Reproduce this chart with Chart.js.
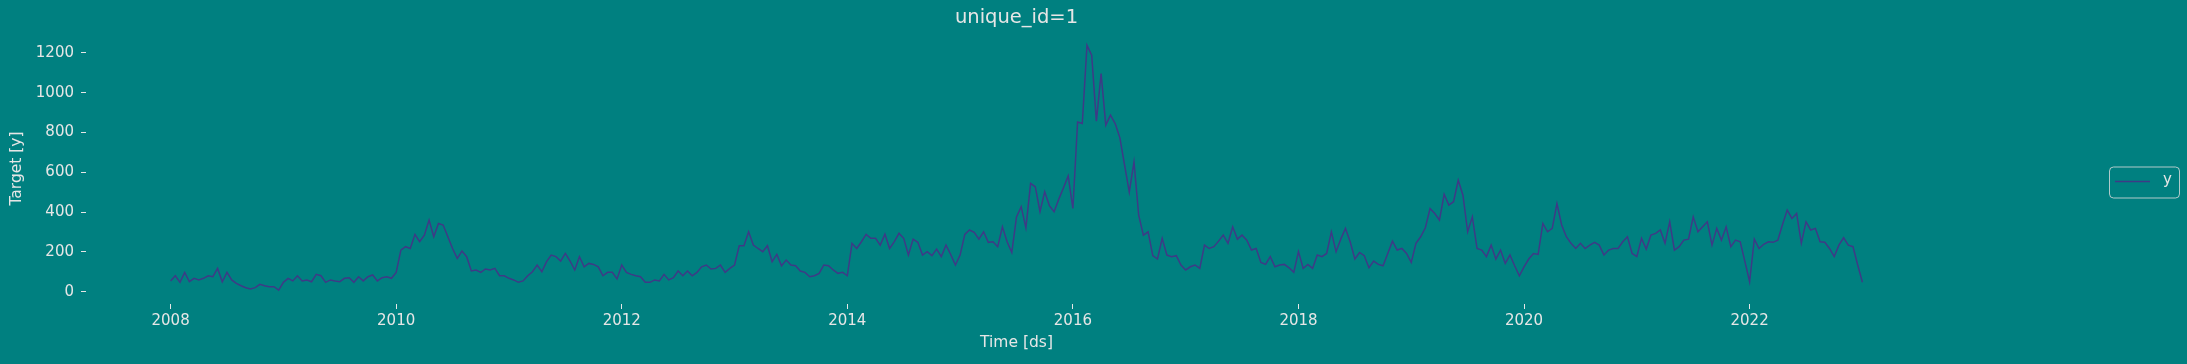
<!DOCTYPE html>
<html>
<head>
<meta charset="utf-8">
<script src="https://cdn.jsdelivr.net/npm/chart.js@4.4.1/dist/chart.umd.min.js"></script>
<style>
  html, body { margin: 0; padding: 0; background: #008080; }
</style>
</head>
<body>
<canvas id="chart" width="2187" height="364"></canvas>
<script>
const chartTitle = "unique_id=1";
const seriesName = "y";
const startYear = 2008;
const pointsPerYear = 24; // half-month readings
const xTicks = [2008, 2010, 2012, 2014, 2016, 2018, 2020, 2022];
const yTicks = [0, 200, 400, 600, 800, 1000, 1200];

// values, 2008.0 -> 2023.0
const values = [
  54, 80, 47, 97, 50, 67, 59, 67, 80, 75, 117, 50, 97, 59, 42, 30, 20, 13, 20, 37, 30, 25, 25, 8,
  47, 67, 54, 80, 54, 59, 50, 87, 80, 47, 59, 54, 50, 67, 70, 47, 75,
  54, 75, 84, 54, 70, 75, 67, 97,
  209, 226, 217, 288, 251, 284, 360, 276, 343, 335, 276, 217, 167, 204, 176, 104, 109, 97, 114, 109, 117, 80, 80, 67,
  59, 47, 54, 80, 100, 134, 100, 151, 184,
  176, 154, 192, 154, 109, 176, 125, 142, 137, 125, 80, 97, 97, 64,
  134, 97, 87, 80, 75, 47, 47, 59, 54, 87, 59, 70, 104, 80, 104, 80, 97, 125, 134, 114, 117, 134, 97, 117,
  134, 231,
  231, 301, 234, 217, 201, 231, 151, 187, 130, 159, 134, 130, 104, 97, 75, 80, 92, 134, 130, 109, 92, 97, 80,
  243, 217, 251, 288, 268, 268, 234, 289, 217, 251, 293, 268, 184, 264, 248, 184, 201, 181,
  214, 176, 234, 187, 134,
  184, 288, 310, 298, 264, 301, 248, 251, 226, 326, 251, 197, 376, 427, 321, 544, 527, 402, 502, 432, 402, 465, 522, 582,
  418, 853, 845, 1238, 1188, 857, 1096, 837, 887, 845, 773, 636,
  500, 652, 385, 284, 301, 181, 164, 268, 184, 176, 181, 134,
  109, 125, 134, 117, 234, 217, 226, 254, 284, 243, 326, 264, 284, 259, 209, 217, 147, 137, 176, 125, 134, 137, 120, 97,
  201, 117, 137, 117, 184,
  176, 192, 301, 201, 264, 318, 251, 164, 197, 181, 120, 154, 137, 130, 192, 254, 209, 217, 192,
  147, 243, 276, 321, 418, 393, 360, 489, 435, 452, 560, 485, 301, 376, 217, 209, 176, 234, 164, 209, 142, 184,
  130, 80,
  125, 164, 192, 187, 343, 301, 318, 443, 335, 276, 243, 217, 243, 217, 234, 248, 234, 184, 209, 217, 217, 251, 276, 192,
  176, 268, 214, 284, 293, 310, 243, 351, 209, 226, 259, 264, 376, 301, 326,
  351, 234, 318, 259, 326, 226, 259, 251, 151,
  50, 264, 217, 238, 251, 248, 259, 338, 410, 368, 393, 243, 351, 310, 318, 251, 248, 217, 176, 234, 271, 234, 226, 134,
  47
];

const ink = "#e6e6e6";
const lineColor = "#3e3a86";
const bg = "#008080";
const fontFamily = "'DejaVu Sans', sans-serif";

const points = values.map((v, i) => ({ x: startYear + i / pointsPerYear, y: v }));

const background = {
  id: "background",
  beforeDraw(chart) {
    const ctx = chart.ctx;
    ctx.save();
    ctx.fillStyle = bg;
    ctx.fillRect(0, 0, chart.width, chart.height);
    ctx.restore();
  }
};

// matplotlib style framed legend, right side, centred vertically
const legendBox = {
  id: "legendBox",
  afterDraw(chart) {
    const ctx = chart.ctx;
    const ds = chart.data.datasets[0];
    const w = 70, h = 31;
    const x = chart.width - w - 8;
    const y = chart.height / 2 - h / 2;
    ctx.save();
    ctx.beginPath();
    ctx.roundRect(x + 0.5, y + 0.5, w, h, 4);
    ctx.fillStyle = "rgba(0,128,128,0.8)";
    ctx.fill();
    ctx.strokeStyle = "rgba(220,220,220,0.8)";
    ctx.lineWidth = 1;
    ctx.stroke();
    ctx.beginPath();
    ctx.moveTo(x + 6, y + 15);
    ctx.lineTo(x + 41, y + 15);
    ctx.strokeStyle = ds.borderColor;
    ctx.lineWidth = 1.5;
    ctx.stroke();
    ctx.fillStyle = ink;
    ctx.font = "15px " + fontFamily;
    ctx.textBaseline = "middle";
    ctx.fillText(ds.label, x + 54, y + 14);
    ctx.restore();
  }
};

new Chart(document.getElementById("chart"), {
  type: "line",
  data: {
    datasets: [{
      label: seriesName,
      data: points,
      borderColor: lineColor,
      borderWidth: 1.5,
      pointRadius: 0,
      tension: 0,
      fill: false
    }]
  },
  options: {
    responsive: false,
    animation: false,
    layout: { padding: { left: 0, right: 240, top: 0, bottom: 0 } },
    plugins: {
      legend: { display: false },
      tooltip: { enabled: false },
      title: {
        display: true,
        text: chartTitle,
        color: ink,
        fullSize: false,
        font: { family: fontFamily, size: 19.5, weight: "normal" },
        padding: { top: 6, bottom: 3.6 }
      }
    },
    scales: {
      x: {
        type: "linear",
        min: 2007.25,
        max: 2023.75,
        afterBuildTicks: scale => { scale.ticks = xTicks.map(v => ({ value: v })); },
        afterFit: scale => { scale.height = 60; },
        border: { display: false },
        grid: { drawOnChartArea: false, drawTicks: true, tickLength: 5, tickColor: ink, tickWidth: 1 },
        ticks: {
          color: ink,
          padding: 3,
          maxRotation: 0,
          font: { family: fontFamily, size: 15 },
          callback: v => String(v)
        },
        title: {
          display: true,
          text: "Time [ds]",
          color: ink,
          font: { family: fontFamily, size: 15.5 },
          padding: { top: 0, bottom: 12 }
        }
      },
      y: {
        type: "linear",
        min: -62,
        max: 1300,
        afterBuildTicks: scale => { scale.ticks = yTicks.map(v => ({ value: v })); },
        afterFit: scale => { scale.width = 86; },
        border: { display: false },
        grid: { drawOnChartArea: false, drawTicks: true, tickLength: 5, tickColor: ink, tickWidth: 1 },
        ticks: {
          color: ink,
          padding: 7,
          font: { family: fontFamily, size: 15 },
          callback: v => String(v)
        },
        title: {
          display: true,
          text: "Target [y]",
          color: ink,
          font: { family: fontFamily, size: 15.5 },
          padding: { top: 8, bottom: 0 }
        }
      }
    }
  },
  plugins: [background, legendBox]
});
</script>
</body>
</html>
